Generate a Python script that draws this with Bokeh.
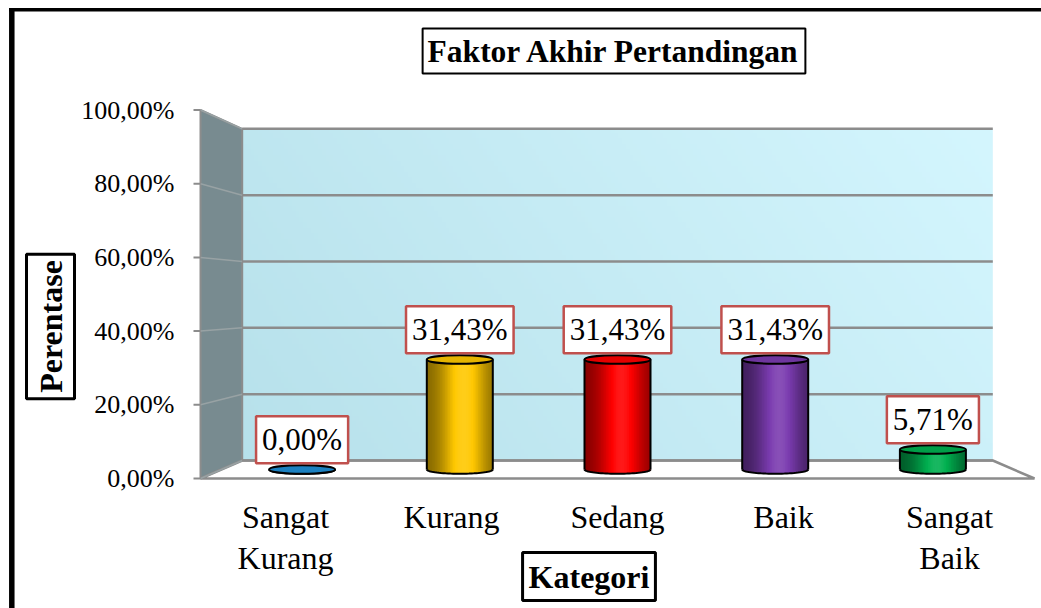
import numpy as np
from bokeh.plotting import figure
from bokeh.models import Range1d, Label, ColumnDataSource
from bokeh.embed import file_html
from bokeh.resources import INLINE
from bokeh.core.properties import value

# ---------------- data ----------------
categories = ["Sangat\nKurang", "Kurang", "Sedang", "Baik", "Sangat\nBaik"]
values = [0.00, 31.43, 31.43, 31.43, 5.71]
value_labels = ["0,00%", "31,43%", "31,43%", "31,43%", "5,71%"]
bar_colors = ["#1E8FD6", "#FFC800", "#FF0000", "#7B3CB0", "#00B050"]
y_ticks = [0, 20, 40, 60, 80, 100]
y_tick_labels = ["0,00%", "20,00%", "40,00%", "60,00%", "80,00%", "100,00%"]
title_text = "Faktor Akhir Pertandingan"
x_title = "Kategori"
y_title = "Perentase"

FONT = "Liberation Serif"

# ---------------- geometry (page pixels -> data) ----------------
W, H = 1041, 608
PXX, PXY = 166.0, 3.685   # px per category unit / per percent (front plane)
CX_PAGE, Y0_PAGE = 617.0, 478.0


def dx(px):
    return 2 + (px - CX_PAGE) / PXX


def dy(py):
    return (Y0_PAGE - py) / PXY


VPX, VPY = 2.0, dy(298)
K_BACK, K_BAR = 0.90, 0.95
HW = 2.0 - dx(200)  # half width of the floor's front edge


def proj(x, y, k):
    return VPX + (x - VPX) * k, VPY + (y - VPY) * k


p = figure(width=W, height=H, output_backend="svg", toolbar_location=None,
           x_range=Range1d(dx(0), dx(W)), y_range=Range1d(dy(H), dy(0)),
           x_axis_location=None, y_axis_location=None,
           min_border=0)
p.outline_line_color = None
p.grid.visible = False
p.background_fill_color = "white"
p.border_fill_color = "white"

xl, xr = VPX - HW, VPX + HW

# outer frame border (left + top)
p.segment(x0=[dx(11.3)], y0=[dy(7.5)], x1=[dx(11.3)], y1=[dy(H)],
          line_color="black", line_width=5.5)
p.segment(x0=[dx(8.5)], y0=[dy(9.2)], x1=[dx(W)], y1=[dy(9.2)],
          line_color="black", line_width=3.5)

# back wall gradient image
bx0, by0 = proj(xl, 0, K_BACK)
bx1, by1 = proj(xr, 100, K_BACK)
n, m = 60, 200
u = np.linspace(0, 1, m)[None, :]
v = np.linspace(0, 1, n)[:, None]
t = np.clip(0.75 * u + 0.25 * v, 0, 1)
c0 = np.array([183, 225, 235])
c1 = np.array([212, 246, 254])
img = np.zeros((n, m), dtype=np.uint32)
view = img.view(dtype=np.uint8).reshape((n, m, 4))
for ch in range(3):
    view[:, :, ch] = (c0[ch] + (c1[ch] - c0[ch]) * t).astype(np.uint8)
view[:, :, 3] = 255
p.image_rgba(image=[img], x=bx0, y=by0, dw=bx1 - bx0, dh=by1 - by0)

# side wall
sw_x = [xl, xl, proj(xl, 100, K_BACK)[0], proj(xl, 0, K_BACK)[0]]
sw_y = [0, 100, proj(xl, 100, K_BACK)[1], proj(xl, 0, K_BACK)[1]]
p.patch(sw_x, sw_y, fill_color="#788B90", line_color="#8C8C8C", line_width=2)

# floor
fl_x = [xl, xr, proj(xr, 0, K_BACK)[0], proj(xl, 0, K_BACK)[0]]
fl_y = [0, 0, proj(xr, 0, K_BACK)[1], proj(xl, 0, K_BACK)[1]]
p.patch(fl_x, fl_y, fill_color="white", line_color="#8C8C8C", line_width=2.5)

# gridlines on side wall and back wall
for tv in y_ticks:
    ax, ay = proj(xl, tv, K_BACK)
    bx, byy = proj(xr, tv, K_BACK)
    p.segment(x0=[xl], y0=[tv], x1=[ax], y1=[ay], line_color="#98A2A4", line_width=1.5)
    p.segment(x0=[ax], y0=[ay], x1=[bx], y1=[byy], line_color="#8C8C8C", line_width=2.5)

# y axis: ticks + labels at the front-left edge
p.segment(x0=[xl - 7 / PXX] * len(y_ticks), y0=y_ticks, x1=[xl] * len(y_ticks), y1=y_ticks,
          line_color="#8C8C8C", line_width=2)
p.text(x=[xl] * len(y_ticks), y=y_ticks, text=y_tick_labels, x_offset=-26,
       text_font=value(FONT), text_font_size="26px", text_color="black",
       text_align="right", text_baseline="middle")

# x axis: category labels at the front edge
p.text(x=list(range(len(categories))), y=[0] * len(categories), text=categories,
       y_offset=20, text_font=value(FONT), text_font_size="32px", text_color="black",
       text_align="center", text_baseline="top", text_line_height=1.15)

# ---------------- cylinders ----------------
def hex_col(rgb):
    r, g, b = [int(max(0, min(255, c))) for c in rgb]
    return "#%02x%02x%02x" % (r, g, b)


def shade(base, f):
    base = np.array([int(base[i:i + 2], 16) for i in (1, 3, 5)], dtype=float)
    if f <= 1:
        return hex_col(base * f)
    w = min(1.0, f - 1.0)
    return hex_col(base + (255 - base) * w)


BW = 66 / PXX
EH = 8.5 / PXY
N = 40
y_base = proj(0, 0, K_BAR)[1]
for i, (val, col) in enumerate(zip(values, bar_colors)):
    cx = proj(i, 0, K_BAR)[0]
    y1 = y_base + val * K_BAR
    edges = np.linspace(cx - BW / 2, cx + BW / 2, N + 1)
    step = edges[1] - edges[0]
    lefts, rights, bottoms, tops, cols = [], [], [], [], []
    for j in range(N):
        tt = (j + 0.5) / N
        f = 0.5 + 0.6 * np.exp(-((tt - 0.56) / 0.33) ** 2)
        xm = (edges[j] + edges[j + 1]) / 2
        r = (xm - cx) / (BW / 2)
        bot = y_base - (EH / 2) * np.sqrt(max(0.0, 1 - r * r))
        lefts.append(edges[j])
        rights.append(min(edges[j + 1] + step, cx + BW / 2))
        bottoms.append(bot)
        tops.append(y1)
        cols.append(shade(col, f))
    p.quad(left=lefts, right=rights, bottom=bottoms, top=tops,
           fill_color=cols, line_color=None)
    th = np.linspace(np.pi, 2 * np.pi, 40)
    p.line(cx + (BW / 2) * np.cos(th), y_base + (EH / 2) * np.sin(th),
           line_color="black", line_width=2)
    p.segment(x0=[cx - BW / 2, cx + BW / 2], y0=[y_base, y_base],
              x1=[cx - BW / 2, cx + BW / 2], y1=[y1, y1],
              line_color="black", line_width=2)
    p.ellipse(x=[cx], y=[y1], width=BW, height=EH,
              fill_color=shade(col, 0.9), line_color="black", line_width=2)

# data labels
lab_src = ColumnDataSource(dict(
    x=[proj(i, 0, K_BAR)[0] for i in range(len(values))],
    y=[y_base + v_ * K_BAR + EH / 2 for v_ in values],
    text=value_labels))
p.text(x="x", y="y", text="text", source=lab_src, text_font=value(FONT),
       text_font_size="31px", text_color="black", text_align="center",
       text_baseline="bottom", y_offset=-2,
       background_fill_color="white", border_line_color="#C0504D",
       border_line_width=2.5, padding=6)

# titles
p.add_layout(Label(x=dx(613.5), y=dy(50.5), text=title_text, text_font=FONT,
                   text_font_size="31.5px", text_font_style="bold", text_color="black",
                   text_align="center", text_baseline="middle",
                   background_fill_color="white",
                   border_line_color="black", border_line_width=2, padding=5))
p.add_layout(Label(x=dx(50), y=dy(326), text=y_title, angle=np.pi / 2, text_font=FONT,
                   text_font_size="32px", text_font_style="bold", text_color="black",
                   text_align="center", text_baseline="middle",
                   background_fill_color="white",
                   border_line_color="black", border_line_width=3, padding=6))
p.add_layout(Label(x=dx(588.5), y=dy(576), text=x_title, text_font=FONT,
                   text_font_size="32px", text_font_style="bold", text_color="black",
                   text_align="center", text_baseline="middle",
                   background_fill_color="white",
                   border_line_color="black", border_line_width=3, padding=6))

open("out.html", "w").write(file_html(p, INLINE))
